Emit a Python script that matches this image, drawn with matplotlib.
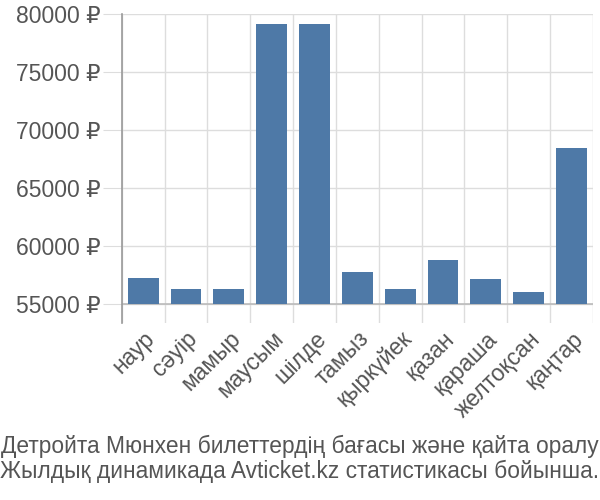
import numpy as np
import matplotlib
matplotlib.use("Agg")
import matplotlib.pyplot as plt
from matplotlib.ticker import FixedLocator, FuncFormatter

months = ["наур", "сәуір", "мамыр", "маусым", "шілде", "тамыз",
          "қыркүйек", "қазан", "қараша", "желтоқсан", "қаңтар"]
prices = [57200, 56300, 56300, 79100, 79100, 57750, 56300, 58750, 57150, 56000, 68400]
yticks = [55000, 60000, 65000, 70000, 75000, 80000]
caption = ["Детройта Мюнхен билеттердің бағасы және қайта оралу",
           "Жылдық динамикада Avticket.kz статистикасы бойынша."]

base = 55000
grey = "#555555"
plt.rcParams['font.family'] = ['Liberation Sans', 'DejaVu Sans']

fig = plt.figure(figsize=(6, 5), dpi=100)
ax = fig.add_axes([0.203, 0.354, 0.785, 0.618])

x = np.arange(len(months))
ax.bar(x, np.array(prices) - base, bottom=base, width=0.72, color="#4e79a7", zorder=3)

ax.set_xlim(-0.5, len(months) - 0.5)
ax.set_ylim(53330, 80000)
ax.set_yticks(yticks)
ax.yaxis.set_major_formatter(FuncFormatter(lambda v, p: f"{int(v)} ₽"))
ax.set_xticks(x)
ax.set_xticklabels(months, rotation=45, ha='right', va='top', rotation_mode='anchor')
ax.xaxis.set_minor_locator(FixedLocator(np.arange(-0.5, len(months), 1.0)))

ax.grid(axis='y', which='major', color="#dddddd", lw=1, zorder=0)
ax.grid(axis='x', which='minor', color="#dddddd", lw=1, zorder=0)
ax.axhline(base, color="#bbbbbb", lw=1.2, zorder=2)

for s in ['top', 'right', 'bottom']:
    ax.spines[s].set_visible(False)
ax.spines['left'].set_color("#999999")
ax.spines['left'].set_linewidth(1.2)

ax.tick_params(axis='y', length=14, color="#dddddd", labelsize=16.5, labelcolor=grey, pad=1)
ax.tick_params(axis='x', which='major', length=0, labelsize=16.5, labelcolor=grey, pad=3)
ax.tick_params(axis='x', which='minor', length=0)

fig.text(0.5, 0.108, caption[0], ha='center', va='center', fontsize=16.4, color=grey)
fig.text(0.5, 0.058, caption[1], ha='center', va='center', fontsize=16.4, color=grey)

fig.savefig("out.png", dpi=100)
